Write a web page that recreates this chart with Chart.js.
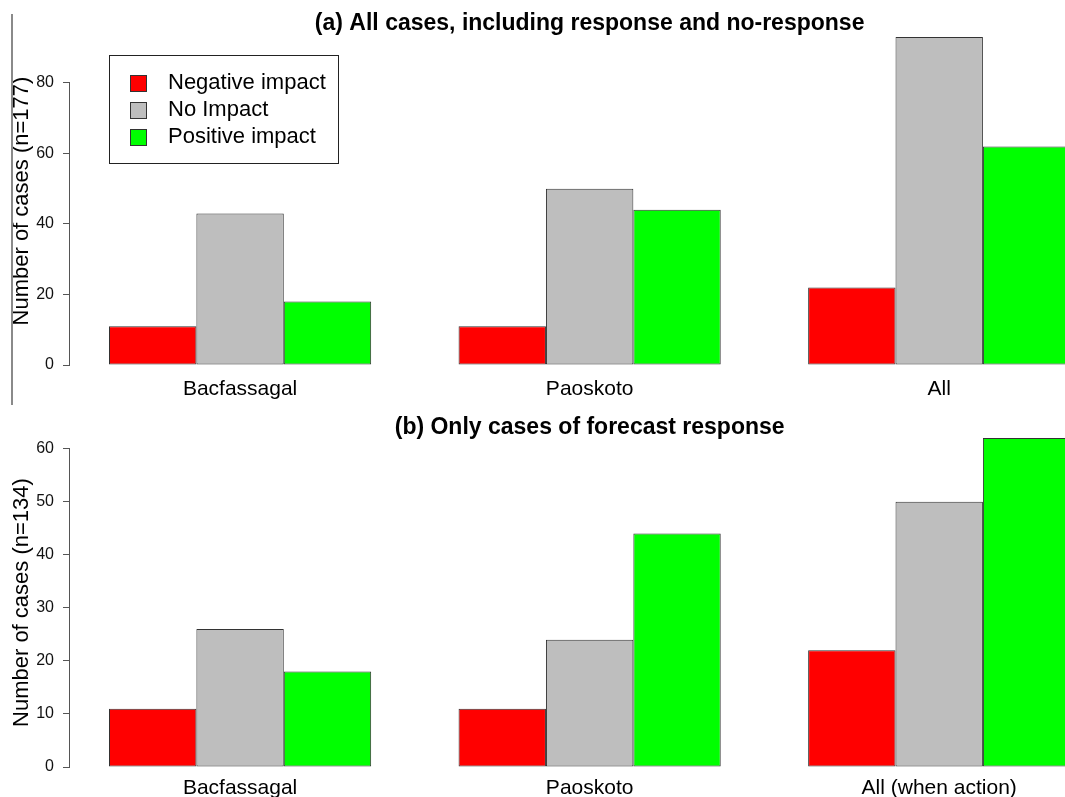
<!DOCTYPE html>
<html>
<head>
<meta charset="utf-8">
<script src="https://cdn.jsdelivr.net/npm/chart.js@4.4.1/dist/chart.umd.min.js"></script>
<style>
  html, body { margin: 0; padding: 0; overflow: hidden; background: #fff; }
  #wrapA { position: absolute; left: 0; top: 0; width: 1114px; height: 422px; }
  #wrapB { position: absolute; left: 0; top: 405px; width: 1114px; height: 407px; }
  #edge { position: absolute; left: 11px; top: 14px; width: 2px; height: 391px; background: #8a8a8a; }
</style>
</head>
<body>
<div id="wrapA"><canvas id="chartA" width="1114" height="422"></canvas></div>
<div id="wrapB"><canvas id="chartB" width="1114" height="407"></canvas></div>
<div id="edge"></div>

<script>
// ----- Data -----
const seriesNames = ["Negative impact", "No Impact", "Positive impact"];
const seriesColors = ["#ff0000", "#bebebe", "#00ff00"];

const groupsA = ["Bacfassagal", "Paoskoto", "All"];
const negativeA = [11, 11, 22];
const noImpactA = [43, 50, 93];
const positiveA = [18, 44, 62];
const ticksA = [0, 20, 40, 60, 80];

const groupsB = ["Bacfassagal", "Paoskoto", "All (when action)"];
const negativeB = [11, 11, 22];
const noImpactB = [26, 24, 50];
const positiveB = [18, 44, 62];
const ticksB = [0, 10, 20, 30, 40, 50, 60];

Chart.defaults.font.family = "'Liberation Sans', Arial, sans-serif";
Chart.defaults.color = "#000";

// R-style y axis: set at x = 70, line only from first to last tick
const rAxis = {
  id: "rAxis",
  afterLayout(chart, args, opts) {
    const y = chart.scales.y;
    y.right = opts.axisX;
    y.left = 0;
    y.width = y.right - y.left;
  },
  afterDraw(chart) {
    const y = chart.scales.y;
    const t = y.ticks;
    const ctx = chart.ctx;
    const x = Math.round(y.right) - 0.5;
    ctx.save();
    ctx.strokeStyle = "#555";
    ctx.lineWidth = 1;
    ctx.beginPath();
    ctx.moveTo(x, y.getPixelForValue(t[0].value));
    ctx.lineTo(x, y.getPixelForValue(t[t.length - 1].value));
    ctx.stroke();
    ctx.restore();
  }
};

// boxed legend in the top-left corner of panel (a)
const legendBox = {
  id: "legendBox",
  afterDraw(chart, args, opts) {
    const ctx = chart.ctx;
    ctx.save();
    ctx.strokeStyle = "#222";
    ctx.lineWidth = 1;
    ctx.strokeRect(opts.x + 0.5, opts.y + 0.5, opts.w, opts.h);
    ctx.font = "22px 'Liberation Sans', Arial, sans-serif";
    ctx.textBaseline = "middle";
    chart.data.datasets.forEach((ds, i) => {
      const cy = opts.y + opts.first + i * opts.rowH;
      ctx.fillStyle = ds.backgroundColor;
      ctx.fillRect(opts.x + 21, cy - 8, 17, 17);
      ctx.strokeStyle = "#333";
      ctx.strokeRect(opts.x + 21.5, cy - 7.5, 16, 16);
      ctx.fillStyle = "#000";
      ctx.fillText(ds.label, opts.x + 59, cy);
    });
    ctx.restore();
  }
};

function makeDatasets(values) {
  return values.map((v, i) => ({
    label: seriesNames[i],
    data: v,
    backgroundColor: seriesColors[i],
    borderColor: "#333",
    borderWidth: 1,
    borderSkipped: false,
    categoryPercentage: 0.75,
    barPercentage: 1.0
  }));
}

function makeChart(id, groups, values, tickVals, title, yTitle, pad, titleGap, labelPad, extraPlugins, legendOpts) {
  const maxVal = Math.max(...values.flat());
  return new Chart(document.getElementById(id), {
    type: "bar",
    data: { labels: groups, datasets: makeDatasets(values) },
    options: {
      responsive: false,
      animation: false,
      layout: { padding: pad },
      plugins: {
        legend: { display: false },
        tooltip: { enabled: false },
        title: {
          display: true,
          text: title,
          font: { size: 23, weight: "bold" },
          color: "#000",
          padding: { top: 0, bottom: titleGap }
        },
        rAxis: { axisX: 70 },
        legendBox: legendOpts || {}
      },
      scales: {
        x: {
          grid: { display: false, drawTicks: false },
          border: { display: false },
          ticks: { font: { size: 21 }, color: "#000", padding: labelPad }
        },
        y: {
          min: 0,
          max: maxVal,
          afterFit: (scale) => { scale.width = 0; },
          afterBuildTicks: (scale) => { scale.ticks = tickVals.map(v => ({ value: v })); },
          grid: { drawOnChartArea: false, drawTicks: true, tickLength: 7, color: "#555" },
          border: { display: false },
          ticks: { font: { size: 16 }, color: "#111", padding: 9 },
          title: {
            display: true,
            text: yTitle,
            font: { size: 22 },
            color: "#000",
            padding: { top: 8.5, bottom: 0 }
          }
        }
      }
    },
    plugins: [rAxis].concat(extraPlugins)
  });
}

document.addEventListener("DOMContentLoaded", () => {
  makeChart(
    "chartA", groupsA, [negativeA, noImpactA, positiveA], ticksA,
    "(a) All cases, including response and no-response",
    "Number of cases (n=177)",
    { left: 65.3, right: 0, top: 9.5, bottom: 7.8 }, 0, 12,
    [legendBox],
    { x: 109, y: 55, w: 229, h: 108, first: 28, rowH: 27 }
  );
  makeChart(
    "chartB", groupsB, [negativeB, noImpactB, positiveB], ticksB,
    "(b) Only cases of forecast response",
    "Number of cases (n=134)",
    { left: 65.3, right: 0, top: 8.5, bottom: 2.8 }, -3, 8.5,
    []
  );
});
</script>
</body>
</html>
